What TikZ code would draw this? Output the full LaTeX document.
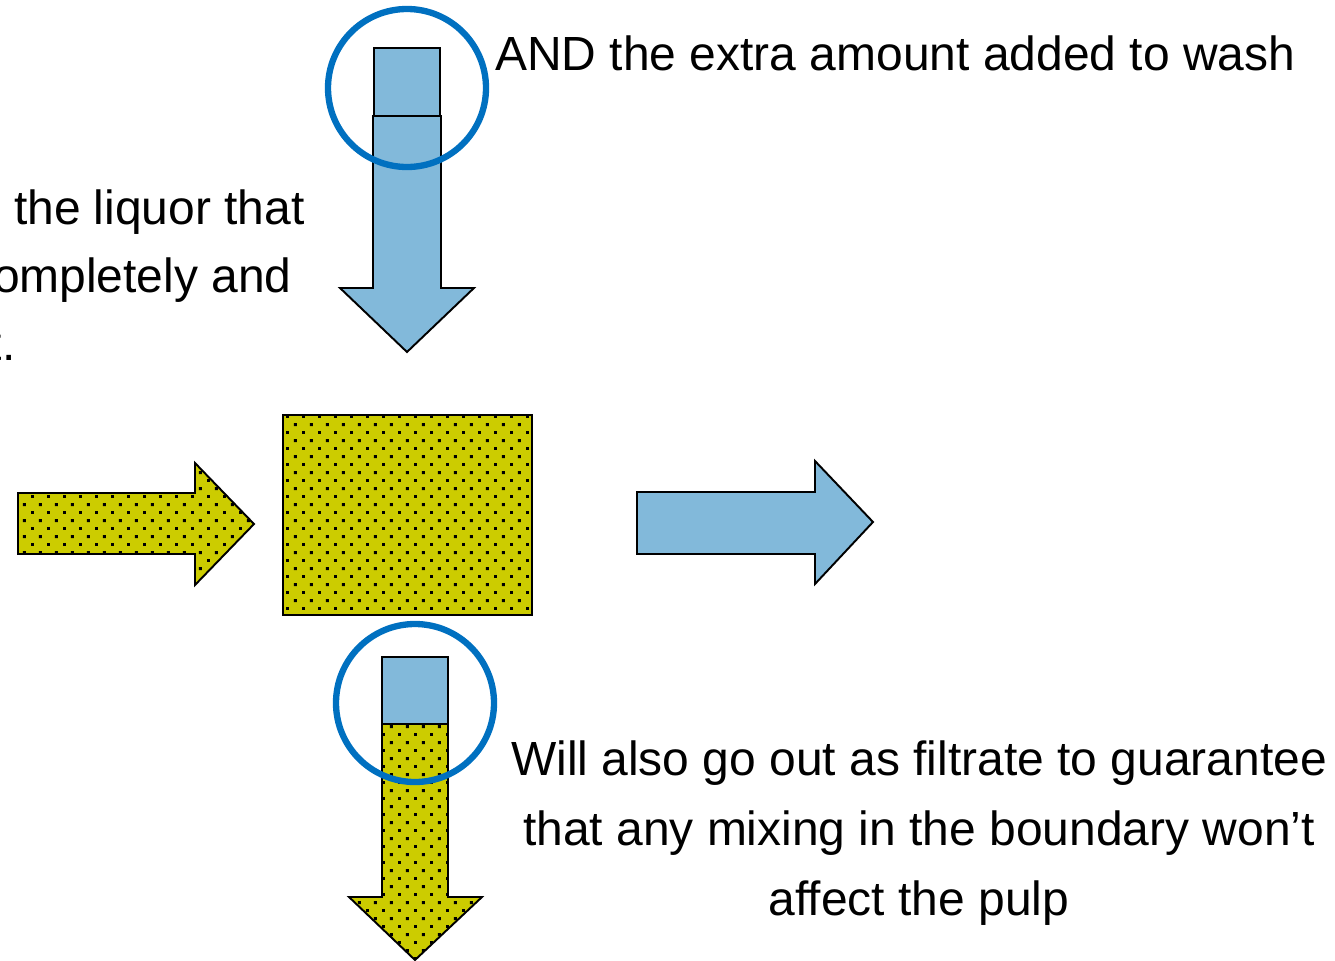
\documentclass[tikz,border=0pt]{standalone}
\usepackage{fontspec}
\setmainfont{Liberation Sans}
\usetikzlibrary{patterns}

% staggered dot texture for the pulp
\pgfdeclarepatternformonly{pulpdots}{\pgfpointorigin}{\pgfqpoint{9.07pt}{9.07pt}}{\pgfqpoint{9.07pt}{9.07pt}}{%
  \pgfpathrectangle{\pgfqpoint{0pt}{0pt}}{\pgfqpoint{1.7pt}{1.7pt}}%
  \pgfpathrectangle{\pgfqpoint{4.53pt}{4.53pt}}{\pgfqpoint{1.7pt}{1.7pt}}%
  \pgfusepath{fill}}

\definecolor{liquor}{RGB}{130,185,218}
\definecolor{pulp}{RGB}{204,204,0}
\definecolor{ring}{RGB}{0,112,192}

\begin{document}
\begin{tikzpicture}[x=0.02cm, y=-0.02cm,
  wash/.style={draw=black, line width=1.1pt, line join=miter, fill=liquor},
  stock/.style={draw=black, line width=1.1pt, line join=miter, fill=pulp, pattern=pulpdots, pattern color=black},
  mark ring/.style={draw=ring, line width=3.6pt},
  words/.style={inner sep=0pt, font=\fontsize{27.3}{39}\selectfont}]

\useasboundingbox (0,0) rectangle (1335,960);
\clip (0,0) rectangle (1335,960);

% wash water coming down
\draw[wash] (373,116)--(441,116)--(441,288)--(474,288)--(407,352)--(340,288)--(373,288)--cycle;
\draw[wash] (374,48) rectangle (440,116);
\draw[mark ring] (407,88) circle[radius=79];

% pulp in and the mat
\fill[pulp] (18,493)--(195,493)--(195,463)--(254,524)--(195,585)--(195,554)--(18,554)--cycle;
\draw[stock] (18,493)--(195,493)--(195,463)--(254,524)--(195,585)--(195,554)--(18,554)--cycle;
\fill[pulp] (283,415) rectangle (532,615);
\draw[stock] (283,415) rectangle (532,615);

% displaced liquor out
\draw[wash] (637,492)--(815,492)--(815,461)--(873,522)--(815,584)--(815,554)--(637,554)--cycle;

% filtrate going down
\fill[pulp] (382,724)--(448,724)--(448,897)--(482,897)--(415,960)--(349,897)--(382,897)--cycle;
\draw[stock] (382,724)--(448,724)--(448,897)--(482,897)--(415,960)--(349,897)--(382,897)--cycle;
\draw[wash] (382,657) rectangle (448,724);
\draw[mark ring] (415,703) circle[radius=79];

% labels
\node[words, anchor=base west] (extra) at (495,70) {AND the extra amount added to wash};
\node[words, anchor=base east] (liq1) at (305,224) {the liquor that};
\node[words, anchor=base east] (liq2) at (292,292) {ompletely and};
\node[words, anchor=base east] (liq3) at (16,360) {t.};
\node[words, anchor=base] (fil1) at (919,775) {Will also go out as filtrate to guarantee};
\node[words, anchor=base] (fil2) at (919,845) {that any mixing in the boundary won’t};
\node[words, anchor=base] (fil3) at (919,915) {affect the pulp};

\end{tikzpicture}
\end{document}
